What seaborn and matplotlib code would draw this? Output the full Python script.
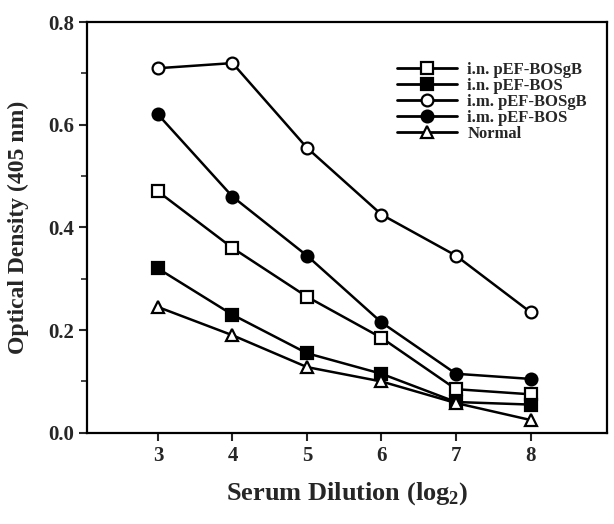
import matplotlib
matplotlib.use("Agg")
import matplotlib.pyplot as plt
import seaborn as sns
import pandas as pd
from matplotlib.ticker import MultipleLocator

dilution = [3, 4, 5, 6, 7, 8]
in_gb = [0.47, 0.36, 0.265, 0.185, 0.085, 0.075]
in_bos = [0.32, 0.23, 0.155, 0.115, 0.06, 0.055]
im_gb = [0.71, 0.72, 0.555, 0.425, 0.345, 0.235]
im_bos = [0.62, 0.46, 0.345, 0.215, 0.115, 0.105]
normal = [0.245, 0.19, 0.128, 0.10, 0.058, 0.025]

series_names = ["i.n. pEF-BOSgB", "i.n. pEF-BOS", "i.m. pEF-BOSgB", "i.m. pEF-BOS", "Normal"]
series_vals = [in_gb, in_bos, im_gb, im_bos, normal]

rows = []
for name, vals in zip(series_names, series_vals):
    for d, v in zip(dilution, vals):
        rows.append({"dilution": d, "od": v, "group": name})
df = pd.DataFrame(rows)

sns.set_style("ticks")
plt.rcParams['font.family'] = ['Liberation Serif', 'DejaVu Serif']
plt.rcParams['font.weight'] = 'bold'
plt.rcParams['mathtext.fontset'] = 'custom'
plt.rcParams['mathtext.bf'] = 'Liberation Serif:bold'
plt.rcParams['mathtext.rm'] = 'Liberation Serif:bold'

fig = plt.figure(figsize=(6.14, 5.24), dpi=100)
ax = fig.add_axes([0.142, 0.174, 0.847, 0.784])

styles = {
    "i.n. pEF-BOSgB": dict(marker="s", mfc="white", ms=8),
    "i.n. pEF-BOS": dict(marker="s", mfc="black", ms=8),
    "i.m. pEF-BOSgB": dict(marker="o", mfc="white", ms=8.5),
    "i.m. pEF-BOS": dict(marker="o", mfc="black", ms=8.5),
    "Normal": dict(marker="^", mfc="white", ms=8.5),
}
for name in series_names:
    sub = df[df["group"] == name]
    st = styles[name]
    sns.lineplot(data=sub, x="dilution", y="od", ax=ax, color="black", lw=1.8,
                 marker=st["marker"], markerfacecolor=st["mfc"], markeredgecolor="black",
                 markeredgewidth=1.6, markersize=st["ms"], label=name)

ax.set_xlim(2.05, 9.03)
ax.set_ylim(0, 0.8)
ax.set_xticks(dilution)
ax.set_yticks([0.0, 0.2, 0.4, 0.6, 0.8])
ax.set_yticklabels(["0.0", "0.2", "0.4", "0.6", "0.8"])
ax.yaxis.set_minor_locator(MultipleLocator(0.1))
ax.tick_params(axis='both', which='major', labelsize=15, width=1.5, length=6, direction='out')
ax.tick_params(axis='y', which='minor', width=1.2, length=4, direction='out')
for lab in ax.get_xticklabels() + ax.get_yticklabels():
    lab.set_fontweight('bold')
for sp in ax.spines.values():
    sp.set_linewidth(1.6)
    sp.set_color("black")

ax.set_xlabel("Serum Dilution (log$_{\\mathbf{2}}$)", fontsize=19, fontweight='bold', labelpad=10)
ax.set_ylabel("Optical Density (405 nm)", fontsize=17, fontweight='bold', labelpad=14)

leg = ax.legend(loc="upper right", bbox_to_anchor=(0.99, 0.94), frameon=False,
                prop={'family': 'Liberation Serif', 'weight': 'bold', 'size': 12},
                handlelength=3.6, handletextpad=0.6, labelspacing=0.0)
for line in leg.get_lines():
    line.set_linewidth(2.0)

fig.savefig("out.png", dpi=100)
